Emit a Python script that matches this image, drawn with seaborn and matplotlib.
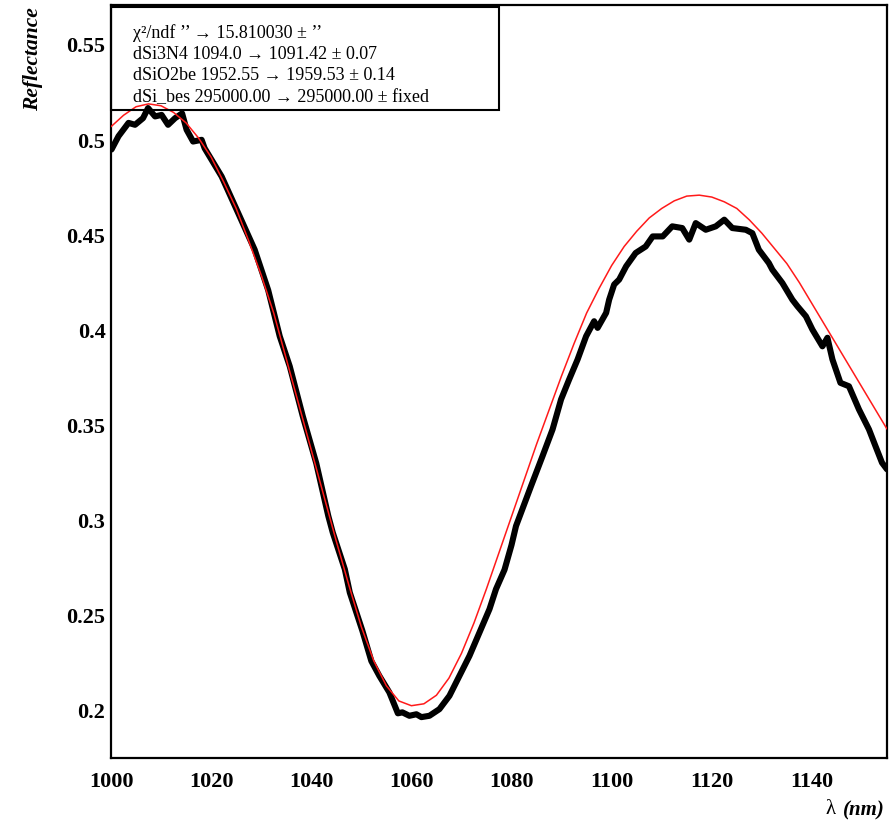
import numpy as np
import pandas as pd
import seaborn as sns
import matplotlib.pyplot as plt
from matplotlib.patches import Rectangle
from matplotlib.ticker import MultipleLocator, FixedLocator, FixedFormatter

meas_nm = [1000.1, 1001.5, 1003.5, 1004.8, 1006.4, 1007.4, 1008.8, 1010.1, 1011.4, 1012.8,
           1014.2, 1015.1, 1016.4, 1018.1, 1018.7, 1022.1, 1025.4, 1028.7, 1031.4, 1033.7,
           1035.7, 1038.3, 1041.0, 1043.4, 1044.3, 1046.7, 1047.7, 1050.2, 1052.0, 1053.6,
           1055.6, 1057.3, 1058.2, 1059.6, 1061.0, 1062.0, 1063.6, 1065.6, 1067.6, 1069.6,
           1071.6, 1073.6, 1075.6, 1076.9, 1078.6, 1080.0, 1080.9, 1083.9, 1086.2, 1088.2,
           1089.9, 1091.5, 1093.2, 1094.9, 1096.5, 1097.2, 1098.9, 1099.5, 1100.5, 1101.5,
           1102.9, 1104.8, 1106.8, 1108.2, 1110.2, 1112.1, 1114.1, 1115.5, 1116.8, 1118.8,
           1120.8, 1122.5, 1124.1, 1126.8, 1128.1, 1129.4, 1131.4, 1132.1, 1134.1, 1136.1,
           1137.1, 1138.8, 1140.1, 1142.1, 1143.1, 1144.1, 1145.7, 1147.4, 1149.4, 1151.4,
           1152.7, 1154.0, 1155.0]
meas_refl = [0.495, 0.502, 0.509, 0.508, 0.5115, 0.5168, 0.5124, 0.5132, 0.508, 0.5115,
             0.514, 0.5054, 0.4992, 0.5001, 0.4957, 0.4808, 0.4616, 0.4423, 0.421, 0.3968,
             0.381, 0.3548, 0.330, 0.3023, 0.2935, 0.2743, 0.262, 0.242, 0.226, 0.2182,
             0.2095, 0.1985, 0.199, 0.1972, 0.198, 0.1965, 0.1972, 0.2007, 0.2077, 0.2182,
             0.2287, 0.241, 0.2533, 0.2638, 0.274, 0.287, 0.297, 0.318, 0.3338, 0.3478,
             0.3636, 0.374, 0.3846, 0.3968, 0.4047, 0.4012, 0.4091, 0.416, 0.424, 0.4266,
             0.4336, 0.4406, 0.444, 0.4493, 0.4493, 0.4546, 0.4537, 0.4476, 0.4563, 0.4528,
             0.4546, 0.4581, 0.4537, 0.4528, 0.451, 0.4423, 0.4353, 0.4318, 0.4248, 0.416,
             0.4126, 0.4073, 0.4003, 0.3915, 0.396, 0.3846, 0.3723, 0.3705, 0.3583, 0.3478,
             0.339, 0.3303, 0.3268]

# fitted curve (red)
fit_nm = [1000, 1002.5, 1005, 1007.5, 1010, 1012.5, 1015, 1017.5, 1020, 1022.5, 1025,
          1027.5, 1030, 1032.5, 1035, 1037.5, 1040, 1042.5, 1045, 1047.5, 1050, 1052.5,
          1055, 1057.5, 1060, 1062.5, 1065, 1067.5, 1070, 1072.5, 1075, 1077.5, 1080,
          1082.5, 1085, 1087.5, 1090, 1092.5, 1095, 1097.5, 1100, 1102.5, 1105, 1107.5,
          1110, 1112.5, 1115, 1117.5, 1120, 1122.5, 1125, 1127.5, 1130, 1132.5, 1135,
          1137.5, 1140, 1142.5, 1145, 1147.5, 1150, 1152.5, 1155]
fit_refl = [0.507, 0.513, 0.5175, 0.519, 0.518, 0.5145, 0.509, 0.501, 0.491, 0.478, 0.464,
            0.447, 0.429, 0.409, 0.385, 0.361, 0.337, 0.313, 0.289, 0.266, 0.244, 0.226,
            0.213, 0.205, 0.2025, 0.2035, 0.208, 0.217, 0.230, 0.246, 0.264, 0.283, 0.302,
            0.321, 0.340, 0.358, 0.376, 0.393, 0.409, 0.422, 0.434, 0.444, 0.452, 0.459,
            0.464, 0.468, 0.4705, 0.471, 0.470, 0.4675, 0.464, 0.458, 0.451, 0.443, 0.435,
            0.425, 0.414, 0.403, 0.392, 0.381, 0.370, 0.359, 0.348]

y_ticks = [0.2, 0.25, 0.3, 0.35, 0.4, 0.45, 0.5, 0.55]
y_labels = ["0.2", "0.25", "0.3", "0.35", "0.4", "0.45", "0.5", "0.55"]
x_ticks = [1000, 1020, 1040, 1060, 1080, 1100, 1120, 1140]

info_lines = [
    "χ²/ndf ’’ → 15.810030 ± ’’",
    "dSi3N4 1094.0 → 1091.42 ± 0.07",
    "dSiO2be 1952.55 → 1959.53 ± 0.14",
    "dSi_bes 295000.00 → 295000.00 ± fixed",
]

sns.set_theme(style="white")
plt.rcParams['font.family'] = ['Liberation Serif', 'DejaVu Serif']

meas = pd.DataFrame({"nm": meas_nm, "refl": meas_refl})
fit = pd.DataFrame({"nm": fit_nm, "refl": fit_refl})

fig = plt.figure(figsize=(8.95, 8.25), dpi=100)
ax = fig.add_axes([111 / 895, 1 - 758 / 825, 776 / 895, 753 / 825])

sns.lineplot(data=meas, x="nm", y="refl", ax=ax, color="black", lw=4.4,
             estimator=None, sort=False, zorder=3)
sns.lineplot(data=fit, x="nm", y="refl", ax=ax, color="#ff1a1a", lw=1.1,
             estimator=None, sort=False, zorder=4)

ax.set_xlim(1000, 1155)
ax.set_ylim(0.175, 0.571)
ax.set_xlabel("")
ax.set_ylabel("")

ax.xaxis.set_major_locator(FixedLocator(x_ticks))
ax.xaxis.set_minor_locator(MultipleLocator(5))
ax.yaxis.set_major_locator(FixedLocator(y_ticks))
ax.yaxis.set_major_formatter(FixedFormatter(y_labels))
ax.yaxis.set_minor_locator(MultipleLocator(0.01))

ax.tick_params(axis="both", which="both", direction="in", color="black", width=1.4,
               top=False, right=False)
ax.tick_params(axis="x", which="major", length=12, pad=10)
ax.tick_params(axis="x", which="minor", length=6)
ax.tick_params(axis="y", which="major", length=10, pad=4)
ax.tick_params(axis="y", which="minor", length=5)
for lab in ax.get_xticklabels() + ax.get_yticklabels():
    lab.set_fontsize(16)
    lab.set_fontweight("bold")
    lab.set_color("black")

for sp in ax.spines.values():
    sp.set_color("black")
    sp.set_linewidth(1.6)

# stats box
fig.add_artist(Rectangle((111 / 895, 1 - 110 / 825), 388 / 895, 103 / 825,
                         transform=fig.transFigure, fill=False, ec="black", lw=1.5))
for i, line in enumerate(info_lines):
    fig.text(133 / 895, 1 - (33 + 21.5 * i) / 825, line, fontsize=13,
             ha="left", va="center", color="black")

fig.text(33 / 895, 1 - 7 / 825, "Reflectance", rotation=90, ha="center", va="top",
         fontsize=15.5, fontweight="bold", fontstyle="italic", color="black")
fig.text(885 / 895, 1 - 810 / 825, "(nm)", ha="right", va="center",
         fontsize=15, fontweight="bold", fontstyle="italic", color="black")
fig.text(836 / 895, 1 - 810 / 825, "λ", ha="right", va="center",
         fontsize=15, color="black")

fig.savefig("out.png", dpi=100)
